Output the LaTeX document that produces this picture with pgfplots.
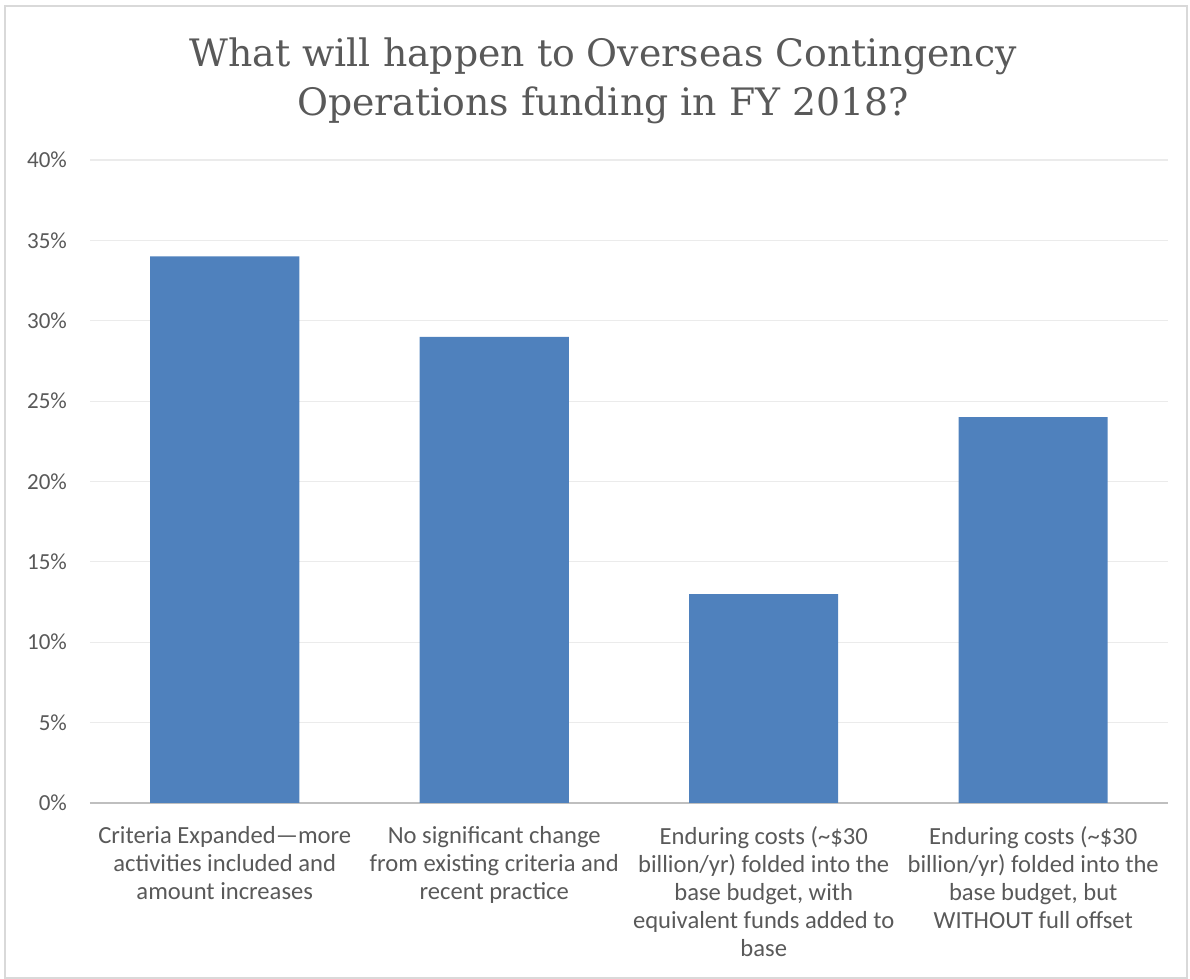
\documentclass[border=0pt]{standalone}
\usepackage{fontspec}
\setmainfont{Carlito}
\newfontfamily\titlefont{DejaVu Serif}
\usepackage{pgfplots}
\pgfplotsset{compat=1.18}
\definecolor{barblue}{HTML}{4F81BD}
\definecolor{txtgray}{HTML}{595959}
\definecolor{gridgray}{HTML}{EBEBEB}
\definecolor{axisgray}{HTML}{BFBFBF}
\definecolor{bordergray}{HTML}{D9D9D9}
\begin{document}
\begin{tikzpicture}[x=1pt,y=1pt]
\path[use as bounding box] (0,0) rectangle (595,489.5);
\draw[bordergray, line width=1pt] (2.5,0.5) rectangle (593.5,486.5);
\node[anchor=base, align=center, text=txtgray, font=\titlefont\fontsize{18.9}{24.5}\selectfont] at (301.5,431.5) {What will happen to Overseas Contingency\\Operations funding in FY 2018?};
\begin{axis}[
  at={(45pt,88pt)}, anchor=south west,
  scale only axis, width=539pt, height=321.5pt,
  xmin=-0.5, xmax=3.5, ymin=0, ymax=40,
  ytick={0,5,...,40},
  yticklabel={\pgfmathprintnumber{\tick}\%},
  /pgf/number format/assume math mode=true,
  ymajorgrids, grid style={gridgray, line width=0.6pt},
  axis x line*=bottom, axis y line*=left,
  x axis line style={axisgray, line width=1pt, -},
  y axis line style={draw=none},
  major tick length=0pt,
  xtick={0,1,2,3},
  xticklabels={{Criteria Expanded—more\\activities included and\\amount increases},
    {No significant change\\from existing criteria and\\recent practice},
    {Enduring costs (\textasciitilde\$30\\billion/yr) folded into the\\base budget, with\\equivalent funds added to\\base},
    {Enduring costs (\textasciitilde\$30\\billion/yr) folded into the\\base budget, but\\WITHOUT full offset}},
  xticklabel style={align=center, text=txtgray, font=\fontsize{12.3}{14}\selectfont, anchor=north, yshift=-8pt},
  yticklabel style={text=txtgray, font=\fontsize{11.5}{13}\selectfont, anchor=east, xshift=-8pt},
]
\addplot[ybar, bar width=74.5pt, fill=barblue, draw=none] coordinates {(0,34) (1,29) (2,13) (3,24)};
\end{axis}
\end{tikzpicture}
\end{document}
